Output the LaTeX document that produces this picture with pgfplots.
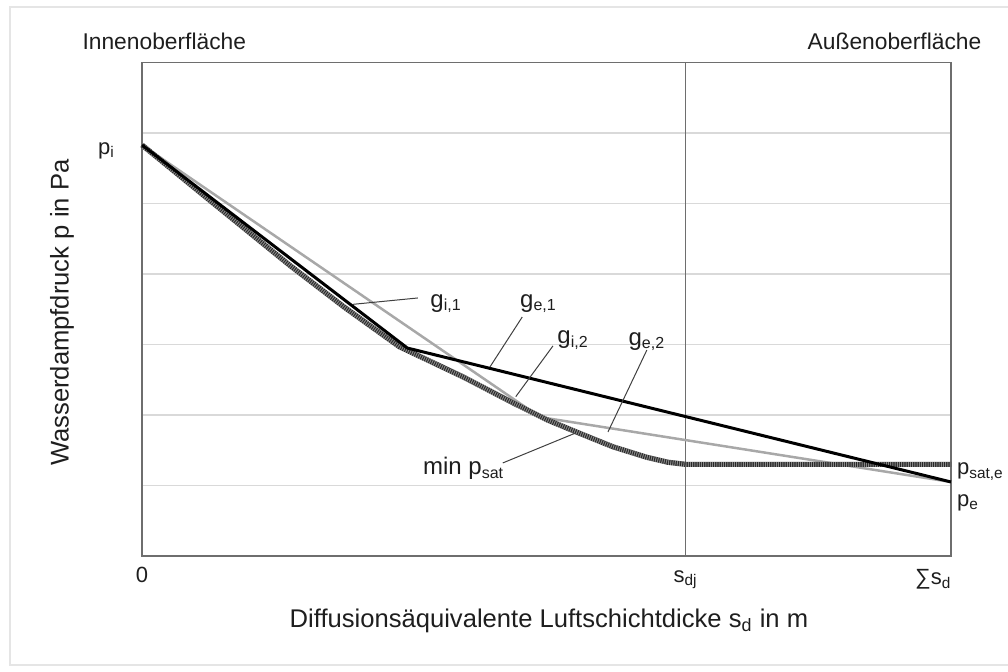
\documentclass[border=0pt]{standalone}
\usepackage{fontspec}
\setmainfont{Liberation Sans}
\usepackage{pgfplots}
\pgfplotsset{compat=1.18}

\definecolor{txt}{HTML}{1E1E1E}
\definecolor{framec}{HTML}{6E6E6E}
\definecolor{gridc}{HTML}{D9D9D9}
\definecolor{lgray}{HTML}{A8A8A8}

\newcommand{\lab}{\fontsize{11}{13}\selectfont}
\newcommand{\glab}{\fontsize{12}{14}\selectfont}

\begin{document}
\begin{tikzpicture}
\useasboundingbox (0,0) rectangle (504pt,335.5pt);
\begin{axis}[
    at={(71pt,57.5pt)}, anchor=south west,
    width=404.5pt, height=246.75pt, scale only axis,
    xmin=0, xmax=10, ymin=0, ymax=7,
    axis line style={framec, line width=0.75pt},
    xtick=\empty, ytick={1,2,3,4,5,6}, yticklabels={,,,,,},
    major tick length=0pt,
    ymajorgrids, grid style={gridc, line width=0.75pt},
    clip=false,
    every axis plot/.append style={line join=round},
]
% outer frame
\draw[gray!20, line width=1pt] (axis cs:11,7.79) -- (axis cs:-1.63,7.79)
    -- (axis cs:-1.63,-1.55) -- (axis cs:11,-1.55);

% s_dj boundary
\addplot[framec, line width=0.75pt] coordinates {(6.72,0)(6.72,7)};

% g_i,2 / g_e,2
\addplot[lgray, line width=1.25pt] coordinates {
    (0,5.83)(4.92,1.97)(10,1.05)
};
% min p_sat (hatched)
\addplot[black!85, line width=2.6pt,
    postaction={draw, white, opacity=0.45, line width=2.6pt, dash pattern=on 0.5pt off 0.6pt}]
    coordinates {
    (0,5.83)(0.80,5.08)(1.83,4.12)(2.50,3.53)(3.18,2.97)(3.97,2.54)(4.59,2.17)
    (5.01,1.93)(5.41,1.74)(5.82,1.55)(6.24,1.40)(6.50,1.33)(6.72,1.30)(10,1.30)
};
% g_i,1 / g_e,1
\addplot[black, line width=1.5pt] coordinates {
    (0,5.83)(3.28,2.95)(10,1.05)
};

% leader lines
\draw[txt!85, line width=0.5pt] (axis cs:2.61,3.57) -- (axis cs:3.41,3.66);
\draw[txt!85, line width=0.5pt] (axis cs:4.30,2.68) -- (axis cs:4.70,3.39);
\draw[txt!85, line width=0.5pt] (axis cs:4.62,2.26) -- (axis cs:5.08,2.98);
\draw[txt!85, line width=0.5pt] (axis cs:5.76,1.76) -- (axis cs:6.24,2.92);
\draw[txt!85, line width=0.5pt] (axis cs:4.46,1.32) -- (axis cs:5.35,1.74);

% curve labels
\node[anchor=base west, inner sep=0pt, text=txt, font=\glab] at (axis cs:3.56,3.53) {g\textsubscript{i,1}};
\node[anchor=base west, inner sep=0pt, text=txt, font=\glab] at (axis cs:4.67,3.53) {g\textsubscript{e,1}};
\node[anchor=base west, inner sep=0pt, text=txt, font=\glab] at (axis cs:5.13,3.01) {g\textsubscript{i,2}};
\node[anchor=base west, inner sep=0pt, text=txt, font=\glab] at (axis cs:6.01,2.99) {g\textsubscript{e,2}};
\node[anchor=base west, inner sep=0pt, text=txt, font=\glab] at (axis cs:3.47,1.15) {min p\textsubscript{sat}};

% edge labels
\node[anchor=base east, inner sep=0pt, text=txt, font=\lab] at (axis cs:-0.33,5.70) {p\textsubscript{i}};
\node[anchor=base west, inner sep=0pt, text=txt, font=\lab] at (axis cs:10.07,1.15) {p\textsubscript{sat,e}};
\node[anchor=base west, inner sep=0pt, text=txt, font=\lab] at (axis cs:10.07,0.70) {p\textsubscript{e}};
\node[anchor=north, inner sep=0pt, text=txt, font=\lab] at (axis cs:0,-0.156) {0};
\node[anchor=base, inner sep=0pt, text=txt, font=\lab] at (axis cs:6.72,-0.37) {s\textsubscript{dj}};
\node[anchor=base, inner sep=0pt, text=txt, font=\lab] at (axis cs:9.78,-0.41) {∑s\textsubscript{d}};

% surface labels
\node[anchor=base west, inner sep=0pt, text=txt, font=\fontsize{11.4}{13}\selectfont] at (axis cs:-0.74,7.18) {Innenoberfläche};
\node[anchor=base east, inner sep=0pt, text=txt, font=\fontsize{11.4}{13}\selectfont] at (axis cs:10.38,7.18) {Außenoberfläche};

% axis titles
\node[rotate=90, inner sep=0pt, text=txt, font=\fontsize{12.8}{15}\selectfont] at (axis cs:-0.99,3.45) {Wasserdampfdruck p in Pa};
\node[anchor=base, inner sep=0pt, text=txt, font=\fontsize{12.8}{15}\selectfont] at (axis cs:5.03,-1.01) {Diffusionsäquivalente Luftschichtdicke s\textsubscript{d} in m};
\end{axis}
\end{tikzpicture}
\end{document}
